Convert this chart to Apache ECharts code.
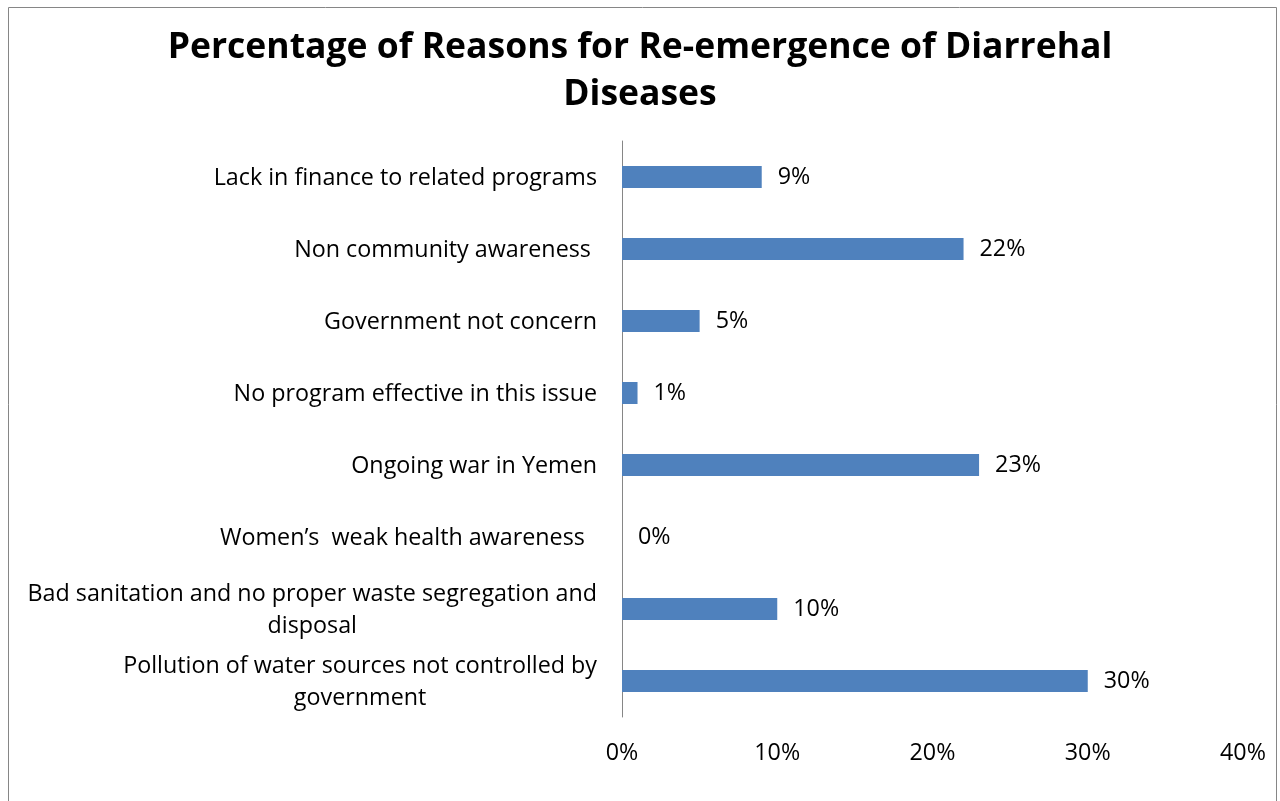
<!DOCTYPE html>
<html>
<head>
<meta charset="utf-8">
<script src="https://cdn.jsdelivr.net/npm/echarts@6/dist/echarts.min.js"></script>
<style>
  html, body { margin: 0; padding: 0; background: #fff; }
  #chart { width: 1280px; height: 801px; }
</style>
</head>
<body>
<div id="chart"></div>
<script>
// Reasons, listed top to bottom
const reasons = [
  'Lack in finance to related programs',
  'Non community awareness ',
  'Government not concern',
  'No program effective in this issue',
  'Ongoing war in Yemen',
  'Women\u2019s  weak health awareness  ',
  'Bad sanitation and no proper waste segregation and\ndisposal',
  'Pollution of water sources not controlled by\ngovernment'
];
// Share of respondents (%)
const shares = [9, 22, 5, 1, 23, 0, 10, 30];
// Value axis ticks (%)
const tickValues = [0, 10, 20, 30, 40];

const FONT = '"Open Sans"';
const FS = 23.3;
const chart = echarts.init(document.getElementById('chart'), null, { renderer: 'canvas' });

chart.setOption({
  backgroundColor: '#fff',
  animation: false,
  title: {
    text: 'Percentage of Reasons for Re-emergence of Diarrehal\nDiseases',
    left: 'center',
    top: 19,
    textStyle: { fontFamily: FONT, fontWeight: 'bold', fontSize: 35.5, lineHeight: 47, color: '#000' }
  },
  graphic: [{
    type: 'rect',
    shape: { x: 8.5, y: 7.5, width: 1268, height: 820 },
    style: { fill: 'none', stroke: '#868686', lineWidth: 1 },
    silent: true
  }],
  grid: { left: 622, right: 37, top: 141, bottom: 84, containLabel: false },
  xAxis: {
    type: 'value',
    min: tickValues[0],
    max: tickValues[tickValues.length - 1],
    interval: tickValues[1] - tickValues[0],
    axisLine: { show: false },
    axisTick: { show: false },
    splitLine: { show: false },
    axisLabel: {
      formatter: '{value}%',
      margin: 25,
      fontFamily: FONT, fontSize: FS, color: '#000'
    }
  },
  yAxis: {
    type: 'category',
    inverse: true,
    data: reasons,
    axisLine: { show: true, lineStyle: { color: '#868686', width: 1 } },
    axisTick: { show: false },
    axisLabel: {
      margin: 25,
      interval: 0,
      align: 'right',
      fontFamily: FONT, fontSize: FS, color: '#000',
      padding: [3, 0, 0, 0],
      formatter: function (v) {
        return v.split('\n').map(function (l) { return '{c|' + l + '}'; }).join('\n');
      },
      rich: { c: { align: 'center', fontFamily: FONT, fontSize: FS, lineHeight: 32, color: '#000' } }
    }
  },
  series: [{
    type: 'bar',
    data: shares,
    barWidth: 22,
    itemStyle: { color: '#4F81BD' },
    label: {
      show: true,
      position: 'right',
      distance: 16,
      formatter: '{c}%',
      fontFamily: FONT, fontSize: FS, color: '#000'
    }
  }]
});
</script>
</body>
</html>
